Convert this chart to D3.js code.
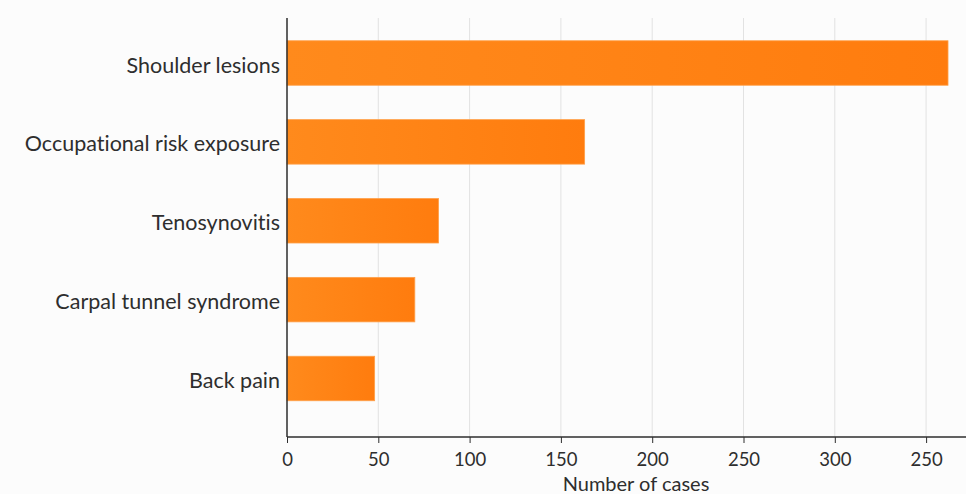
<!DOCTYPE html>
<html>
<head>
<meta charset="utf-8">
<script src="https://cdn.jsdelivr.net/npm/d3@7"></script>
<style>
  html, body { margin: 0; padding: 0; background: #fcfcfc; }
  svg { display: block; }
  text { font-family: Lato, "Open Sans", sans-serif; fill: #2e2e2e; font-variant-ligatures: none; }
</style>
</head>
<body>
<svg id="chart" width="966" height="494"></svg>
<script>
// Work-related musculoskeletal conditions, number of cases
const categories = ["Shoulder lesions", "Occupational risk exposure", "Tenosynovitis", "Carpal tunnel syndrome", "Back pain"];
const cases = [362, 163, 83, 70, 48];
const tickValues = [0, 50, 100, 150, 200, 250, 300, 350];
const tickLabels = ["0", "50", "100", "150", "200", "250", "300", "250"];
const axisTitle = "Number of cases";

const svg = d3.select("#chart");
const W = 966, H = 494;
const plotLeft = 287, plotTop = 18, plotBottom = 437;

const x = d3.scaleLinear().domain([0, 350]).range([plotLeft, plotLeft + 350 * 1.826]);
const y = d3.scalePoint().domain(categories).range([63, 378.5]);
const barH = 44.5;

const defs = svg.append("defs");
const grad = defs.append("linearGradient").attr("id", "barFill")
  .attr("x1", "0%").attr("x2", "100%").attr("y1", "0%").attr("y2", "0%");
grad.append("stop").attr("offset", "0%").attr("stop-color", "#ff8a1c");
grad.append("stop").attr("offset", "100%").attr("stop-color", "#ff7c0e");

// vertical grid lines
svg.append("g")
  .selectAll("line")
  .data(tickValues.filter(d => d > 0))
  .join("line")
  .attr("x1", d => x(d)).attr("x2", d => x(d))
  .attr("y1", plotTop).attr("y2", plotBottom)
  .attr("stroke", "#e2e2e2").attr("stroke-width", 1);

// bars
svg.append("g")
  .selectAll("rect")
  .data(categories)
  .join("rect")
  .attr("x", x(0))
  .attr("y", d => y(d) - barH / 2)
  .attr("width", (d, i) => x(cases[i]) - x(0))
  .attr("height", barH)
  .attr("fill", "url(#barFill)")
  .attr("stroke", "#ffa04a").attr("stroke-width", 0.8);

// x axis
const xAxis = d3.axisBottom(x)
  .tickValues(tickValues)
  .tickFormat((d, i) => tickLabels[i])
  .tickSize(6).tickSizeOuter(0).tickPadding(10);
const gx = svg.append("g").attr("transform", `translate(0,${plotBottom})`).call(xAxis);
gx.select(".domain").remove();
gx.append("line").attr("x1", plotLeft).attr("x2", W).attr("y1", 0).attr("y2", 0)
  .attr("stroke", "#2e2e2e").attr("stroke-width", 1.5);
gx.selectAll(".tick line").attr("stroke", "#2e2e2e");
gx.selectAll(".tick text").attr("font-size", 18.5).attr("fill", "#2e2e2e")
  .style("font-family", "Lato, sans-serif");

// y axis
const yAxis = d3.axisLeft(y).tickSize(0).tickPadding(7);
const gy = svg.append("g").attr("transform", `translate(${plotLeft},0)`).call(yAxis);
gy.select(".domain").remove();
gy.append("line").attr("x1", 0).attr("x2", 0).attr("y1", plotTop).attr("y2", plotBottom)
  .attr("stroke", "#2e2e2e").attr("stroke-width", 1.5);
gy.selectAll(".tick text").attr("font-size", 21.5).attr("fill", "#2e2e2e")
  .attr("dy", "0.42em")
  .style("font-family", "Lato, sans-serif");

// axis title
svg.append("text")
  .attr("x", 636).attr("y", 491)
  .attr("text-anchor", "middle")
  .attr("font-size", 20)
  .text(axisTitle);
</script>
</body>
</html>
